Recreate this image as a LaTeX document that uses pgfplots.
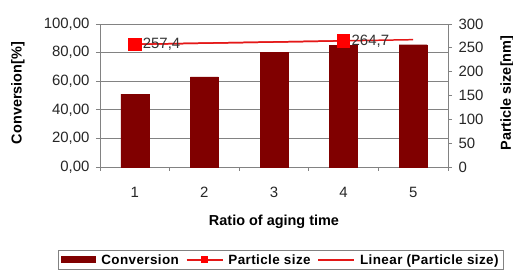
\documentclass[border=0pt]{standalone}
\usepackage{pgfplots}
\pgfplotsset{compat=1.18}
\usepackage{fontspec}
\setmainfont{Liberation Sans}
\newfontfamily\legfont[LetterSpace=3]{Liberation Sans}
\definecolor{barred}{RGB}{128,0,0}
\definecolor{linered}{RGB}{228,24,24}
\definecolor{gridgray}{RGB}{130,130,130}
\begin{document}
\begin{tikzpicture}
\path[use as bounding box] (0,0) rectangle (513bp,271bp);
\begin{axis}[
  at={(100bp,104bp)}, anchor=south west,
  scale only axis, width=348bp, height=143bp,
  xmin=0.5, xmax=5.5, ymin=0, ymax=100,
  axis x line*=bottom, axis y line*=left,
  axis line style={gridgray, line width=0.8pt, -},
  ymajorgrids, grid style={gridgray, line width=0.7pt},
  xtick={1,2,3,4,5}, major x tick style={draw=none},
  minor xtick={0.5,1.5,2.5,3.5,4.5,5.5},
  minor tick length=4bp, tick align=outside, major tick length=4bp,
  tick style={gridgray, line width=0.8pt},
  ytick={0,20,40,60,80,100},
  /pgf/number format/assume math mode=true,
  yticklabel={\pgfmathprintnumber[fixed, fixed zerofill, precision=2, use comma, 1000 sep={}]{\tick}},
  ticklabel style={font=\fontsize{15}{17}\selectfont, text=black!85},
  xticklabel style={yshift=-13bp},
  yticklabel style={xshift=-3bp},
  ylabel={Conversion[\%]},
  ylabel style={at={(axis description cs:-0.236,0.517)}, anchor=center, font=\bfseries\fontsize{14.5}{16}\selectfont},
  xlabel={Ratio of aging time},
  xlabel style={at={(axis description cs:0.5,-0.385)}, anchor=center, font=\bfseries\fontsize{14.5}{16}\selectfont},
  clip=false,
]
\addplot[ybar, bar width=28bp, fill=barred, draw=barred, bar shift=0pt] coordinates {(1,51) (2,63) (3,80) (4,85) (5,85.5)};
\end{axis}
\begin{axis}[
  at={(100bp,104bp)}, anchor=south west,
  scale only axis, width=348bp, height=143bp,
  xmin=0.5, xmax=5.5, ymin=0, ymax=300,
  axis x line=none, axis y line*=right,
  axis line style={gridgray, line width=0.8pt, -},
  ytick={0,50,100,150,200,250,300},
  tick align=outside, major tick length=4bp,
  tick style={gridgray, line width=0.8pt},
  /pgf/number format/assume math mode=true,
  ticklabel style={font=\fontsize{15}{17}\selectfont, text=black!85},
  yticklabel style={xshift=3bp},
  ylabel={Particle size[nm]},
  ylabel style={at={(axis description cs:1.17,0.517)}, anchor=center, rotate=0, font=\bfseries\fontsize{14.5}{16}\selectfont},
  clip=false,
  legend columns=3,
  legend style={at={(axis description cs:0.52,-0.58)}, anchor=north, draw=gridgray, line width=0.8pt,
    font=\legfont\bfseries\fontsize{13.5}{15}\selectfont, inner xsep=3pt, inner ysep=2pt,
    /tikz/every odd column/.append style={column sep=3bp},
    /tikz/every even column/.append style={column sep=5bp}},
  legend cell align=left,
]
\addlegendimage{legend image code/.code={\fill[fill=barred, draw=none] (0bp,-3.5bp) rectangle (35bp,3.5bp);}}
\addlegendentry{Conversion}
\addlegendimage{legend image code/.code={\draw[draw=linered, line width=1.5pt] (0bp,0bp) -- (36bp,0bp); \fill[fill=red, draw=none] (14.5bp,-3.5bp) rectangle (21.5bp,3.5bp);}}
\addlegendentry{Particle size}
\addlegendimage{legend image code/.code={\draw[draw=linered, line width=1.5pt] (0bp,0bp) -- (36bp,0bp);}}
\addlegendentry{Linear (Particle size)}
\addplot[forget plot, linered, line width=1.5pt, mark=square*, mark size=6bp, mark options={solid, fill=red, draw=red},
  nodes near coords, point meta=explicit symbolic,
  every node near coord/.append style={anchor=west, xshift=4bp, font=\fontsize{15}{17}\selectfont, text=black!80}]
  coordinates {(1,257.4)[257,4] (4,264.7)[264,7]};
\addplot[forget plot, linered, line width=1.5pt] coordinates {(1,257.4) (5,267.13)};
\end{axis}
\end{tikzpicture}
\end{document}
